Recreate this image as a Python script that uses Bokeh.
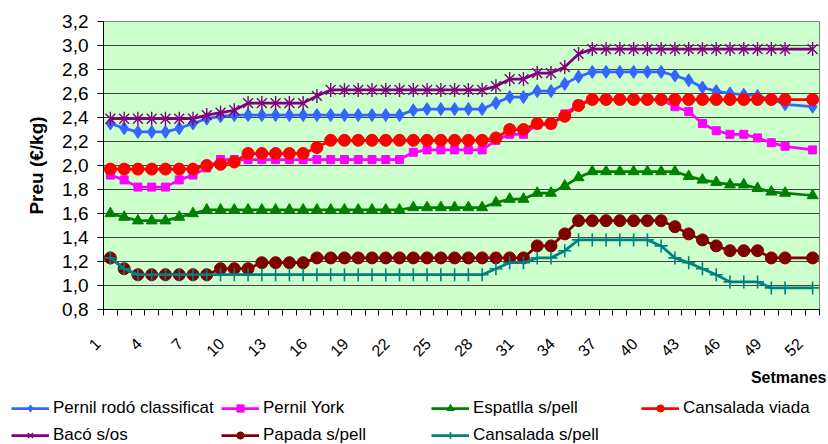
import math
from bokeh.plotting import figure
from bokeh.models import (FixedTicker, CustomJSTickFormatter, Legend, LegendItem,
                          Label, Range1d)
from bokeh.embed import file_html
from bokeh.resources import INLINE

# ---- data (week 51 has no value) ----
weeks = [1, 2, 3, 4, 5, 6, 7, 8, 9, 10, 11, 12, 13, 14, 15, 16, 17, 18, 19, 20,
         21, 22, 23, 24, 25, 26, 27, 28, 29, 30, 31, 32, 33, 34, 35, 36, 37, 38,
         39, 40, 41, 42, 43, 44, 45, 46, 47, 48, 49, 50, 52]
week_labels = [1, 4, 7, 10, 13, 16, 19, 22, 25, 28, 31, 34, 37, 40, 43, 46, 49, 52]
y_ticks = [0.8, 1.0, 1.2, 1.4, 1.6, 1.8, 2.0, 2.2, 2.4, 2.6, 2.8, 3.0, 3.2]

pernil_rodo = [2.35, 2.31, 2.28, 2.28, 2.28, 2.31, 2.35, 2.39, 2.41,
               2.42, 2.42, 2.42, 2.42, 2.42, 2.42, 2.42, 2.42, 2.42, 2.42, 2.42, 2.42, 2.42,
               2.46, 2.47, 2.47, 2.47, 2.47, 2.47,
               2.52, 2.57, 2.57, 2.62, 2.62, 2.68, 2.74,
               2.78, 2.78, 2.78, 2.78, 2.78, 2.78,
               2.75, 2.71, 2.65, 2.62, 2.60, 2.59, 2.58, 2.55, 2.51, 2.49]
pernil_york = [1.92, 1.88, 1.82, 1.82, 1.82, 1.88, 1.92, 1.98,
               2.05, 2.05, 2.05, 2.05, 2.05, 2.05, 2.05, 2.05, 2.05, 2.05, 2.05, 2.05, 2.05, 2.05,
               2.11, 2.13, 2.13, 2.13, 2.13, 2.13,
               2.21, 2.26, 2.26, 2.34, 2.34, 2.43, 2.51,
               2.55, 2.55, 2.55, 2.55, 2.55, 2.55,
               2.49, 2.45, 2.35, 2.29, 2.26, 2.26, 2.23, 2.19, 2.16, 2.13]
espatlla = [1.60, 1.57, 1.54, 1.54, 1.54, 1.57, 1.60,
            1.63, 1.63, 1.63, 1.63, 1.63, 1.63, 1.63, 1.63, 1.63, 1.63, 1.63, 1.63, 1.63, 1.63, 1.63,
            1.65, 1.65, 1.65, 1.65, 1.65, 1.65,
            1.69, 1.72, 1.72, 1.77, 1.77, 1.83, 1.90,
            1.95, 1.95, 1.95, 1.95, 1.95, 1.95, 1.95,
            1.91, 1.88, 1.86, 1.84, 1.84, 1.81, 1.78, 1.77, 1.75]
cansalada_viada = [1.97, 1.97, 1.97, 1.97, 1.97, 1.97, 1.97, 2.00, 2.01, 2.03,
                   2.10, 2.10, 2.10, 2.10, 2.10, 2.15,
                   2.21, 2.21, 2.21, 2.21, 2.21, 2.21, 2.21, 2.21, 2.21, 2.21, 2.21, 2.21,
                   2.23, 2.30, 2.30, 2.35, 2.35, 2.41, 2.50,
                   2.55, 2.55, 2.55, 2.55, 2.55, 2.55, 2.55, 2.55, 2.55, 2.55, 2.55, 2.55,
                   2.55, 2.55, 2.55, 2.55]
baco = [2.39, 2.39, 2.39, 2.39, 2.39, 2.39, 2.39, 2.42, 2.44, 2.46,
        2.52, 2.52, 2.52, 2.52, 2.52, 2.58,
        2.63, 2.63, 2.63, 2.63, 2.63, 2.63, 2.63, 2.63, 2.63, 2.63, 2.63, 2.63,
        2.66, 2.72, 2.72, 2.77, 2.77, 2.82, 2.93,
        2.97, 2.97, 2.97, 2.97, 2.97, 2.97, 2.97, 2.97, 2.97, 2.97, 2.97, 2.97,
        2.97, 2.97, 2.97, 2.97]
papada = [1.23, 1.14, 1.09, 1.09, 1.09, 1.09, 1.09, 1.09,
          1.14, 1.14, 1.14, 1.19, 1.19, 1.19, 1.19,
          1.23, 1.23, 1.23, 1.23, 1.23, 1.23, 1.23, 1.23, 1.23, 1.23, 1.23, 1.23, 1.23,
          1.23, 1.23, 1.23,
          1.33, 1.33, 1.43, 1.54, 1.54, 1.54, 1.54, 1.54, 1.54, 1.54,
          1.49, 1.43, 1.38, 1.33, 1.29, 1.29, 1.29, 1.23, 1.23, 1.23]
cansalada_spell = [1.23, 1.14, 1.09, 1.09, 1.09, 1.09, 1.09, 1.09, 1.09, 1.09,
                   1.09, 1.09, 1.09, 1.09, 1.09, 1.09, 1.09, 1.09, 1.09, 1.09,
                   1.09, 1.09, 1.09, 1.09, 1.09, 1.09, 1.09, 1.09,
                   1.14, 1.19, 1.19, 1.23, 1.23, 1.29,
                   1.38, 1.38, 1.38, 1.38, 1.38, 1.38,
                   1.33, 1.23, 1.19, 1.14, 1.09, 1.03, 1.03, 1.03, 0.98, 0.98, 0.98]

series_names = ["Pernil rodó classificat", "Pernil York", "Espatlla s/pell",
                "Cansalada viada", "Bacó s/os", "Papada s/pell", "Cansalada s/pell"]
series_values = [pernil_rodo, pernil_york, espatlla, cansalada_viada, baco, papada,
                 cansalada_spell]
series_colors = ["#3366FF", "#FF00FF", "#008000", "#FF0000", "#800080", "#800000", "#008080"]
series_markers = ["diamond", "square", "triangle", "circle", "star6", "circle", "cross"]
series_sizes = [13, 8, 11, 12, 14, 12, 13]

FONT = "Liberation Sans"

p = figure(width=828, height=368, output_backend="svg", toolbar_location=None,
           x_range=Range1d(0.5, 52.5), y_range=Range1d(0.8, 3.2),
           min_border_left=103, min_border_right=9, min_border_top=21,
           min_border_bottom=59)
p.background_fill_color = "#CCFFCC"
p.border_fill_color = "white"
p.outline_line_color = "#808080"
p.outline_line_width = 1

p.xgrid.visible = False
p.ygrid.ticker = FixedTicker(ticks=y_ticks)
p.ygrid.grid_line_color = "#444444"
p.ygrid.grid_line_width = 1

# y axis
yax = p.yaxis[0]
yax.ticker = FixedTicker(ticks=y_ticks)
yax.formatter = CustomJSTickFormatter(code="return tick.toFixed(1).replace('.', ',');")
yax.major_label_text_font = FONT
yax.major_label_text_font_size = "19px"
yax.major_label_text_color = "black"
yax.major_tick_out = 6
yax.major_tick_in = 0
yax.minor_tick_line_color = None
yax.major_tick_line_color = "black"
yax.axis_line_color = "black"
yax.major_label_standoff = 9
yax.axis_label = "Preu (€/kg)"
yax.axis_label_text_font = FONT
yax.axis_label_text_font_size = "19px"
yax.axis_label_text_font_style = "bold"
yax.axis_label_text_color = "black"
yax.axis_label_standoff = 12

# x axis (labels padded with no-break spaces so they sit left of their week, as in Excel)
xax = p.xaxis[0]
xax.ticker = FixedTicker(ticks=week_labels, minor_ticks=[i + 0.5 for i in range(53)])
xax.formatter = CustomJSTickFormatter(
    code="return tick.toFixed(0) + '\\u00a0\\u00a0\\u00a0\\u00a0';")
xax.major_tick_line_color = None
xax.major_tick_out = 0
xax.major_tick_in = 0
xax.minor_tick_line_color = "black"
xax.minor_tick_out = 6
xax.minor_tick_in = 0
xax.axis_line_color = "black"
xax.major_label_orientation = math.pi / 4
xax.major_label_text_font = FONT
xax.major_label_text_font_size = "16px"
xax.major_label_text_color = "black"
xax.major_label_standoff = 13

# strip below the chart for the x title and the legend (pixel coordinates)
p2 = figure(width=828, height=76, output_backend="svg", toolbar_location=None,
            x_range=Range1d(0, 828), y_range=Range1d(0, 76),
            x_axis_location=None, y_axis_location=None,
            min_border_left=0, min_border_right=0, min_border_top=0,
            min_border_bottom=0)
p2.xgrid.visible = False
p2.ygrid.visible = False
p2.outline_line_color = None
p2.background_fill_color = "white"
p2.border_fill_color = "white"


def draw(fig, xs, ys, color, marker, size):
    rs = [fig.line(xs, ys, line_color=color, line_width=2.75)]
    if marker == "star6":
        rs.append(fig.scatter(xs, ys, marker="x", size=size,
                              line_color=color, line_width=1.4))
        rs.append(fig.scatter(xs, ys, marker="dash", angle=math.pi / 2, size=size,
                              line_color=color, line_width=1.4))
    elif marker == "cross":
        rs.append(fig.scatter(xs, ys, marker="cross", size=size,
                              line_color=color, line_width=1.6))
    else:
        rs.append(fig.scatter(xs, ys, marker=marker, size=size,
                              fill_color=color, line_color=color))
    return rs


items = []
for name, vals, color, marker, size in zip(series_names, series_values, series_colors,
                                           series_markers, series_sizes):
    draw(p, weeks, vals, color, marker, size)
    # off-screen proxy so the legend strip can draw this series' line + marker
    rs = draw(p2, [-1000], [-1000], color, marker, size)
    items.append(LegendItem(label=name, renderers=rs))

columns = [[items[0], items[4]], [items[1], items[5]], [items[2], items[6]], [items[3]]]
col_x = [11, 221, 431, 641]
for col, cx in zip(columns, col_x):
    bottom = -1 if len(col) == 2 else 26
    lg = Legend(items=col, location=(cx, bottom), orientation="vertical",
                padding=0, margin=0, spacing=7, glyph_width=38, glyph_height=18,
                label_height=18, label_standoff=4, border_line_color=None,
                background_fill_alpha=0, label_text_font=FONT,
                label_text_font_size="17px", label_text_color="black")
    p2.add_layout(lg, "center")

p2.add_layout(Label(x=826, y=67, text="Setmanes", text_align="right",
                    text_baseline="middle", text_font=FONT, text_font_size="16px",
                    text_font_style="bold", text_color="black"))

open("out.html", "w").write(file_html([p, p2], INLINE))
